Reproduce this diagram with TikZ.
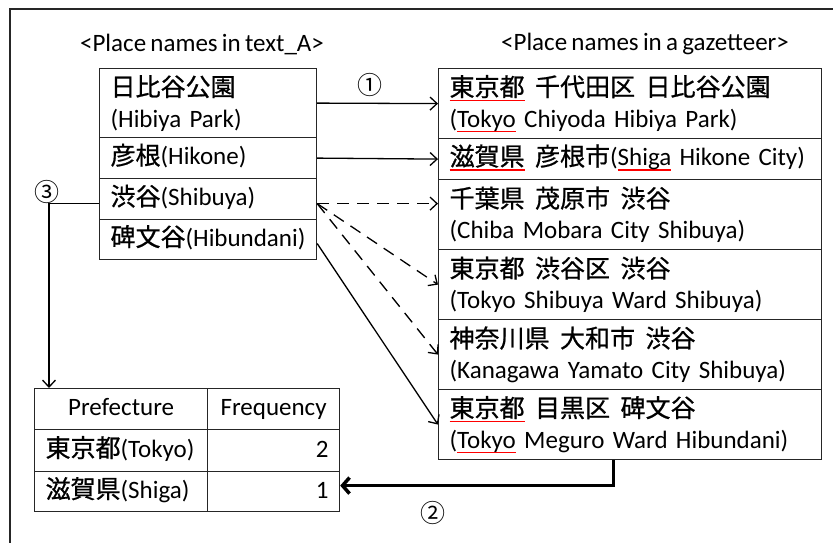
\documentclass[tikz,border=0pt]{standalone}
\usepackage{fontspec}
\setmainfont[WordSpace=0.75]{Carlito}
\newfontfamily\cjk[FakeBold=0.8]{Noto Sans CJK JP}
\newfontfamily\circfont{Noto Sans CJK JP}
\usetikzlibrary{arrows.meta}
\newsavebox\ulbox
\newcommand\redul[1]{\sbox\ulbox{#1}\rlap{\textcolor{red}{\rule[-5pt]{\wd\ulbox}{1.5pt}}}\usebox\ulbox}
\newcommand\jsp{\hspace{0.42em}}
\begin{document}
\begin{tikzpicture}[x=1pt,y=-1pt,
  font=\fontsize{25}{31}\selectfont,
  cell/.style={draw=black!85, line width=1.2pt, inner xsep=11pt, inner ysep=0pt, anchor=north west, align=left},
  one/.style={text height=18pt, text depth=5pt},
  conn/.style={line width=1.3pt, -{Straight Barb[length=7pt,width=13pt]}},
  dconn/.style={conn, dash pattern=on 12pt off 8pt},
  bigconn/.style={line width=3.5pt, -{Straight Barb[length=7pt,width=16pt]}}]
\useasboundingbox (0,0) rectangle (833,543);
\fill[white] (0,0) rectangle (833,543);
% frame
\draw[line width=1.2pt, black!85] (10,543) -- (10,9) -- (833,9);
% titles
\node (ta) at (202,44) {<Place names in text\_A>};
\node (tb) at (645,44) {<Place names in a gazetteer>};
% left table
\node[cell, text width=195pt, minimum height=69pt] (L1) at (99,68) {{\cjk 日比谷公園}\\(Hibiya Park)};
\node[cell, one, text width=195pt, minimum height=41pt] (L2) at (99,137) {{\cjk 彦根}(Hikone)};
\node[cell, one, text width=195pt, minimum height=41pt] (L3) at (99,178) {{\cjk 渋谷}(Shibuya)};
\node[cell, one, text width=195pt, minimum height=40pt] (L4) at (99,219) {{\cjk 碑文谷}(Hibundani)};
% right table
\node[cell, text width=361pt, minimum height=70pt] (R1) at (438,68) {\redul{\cjk 東京都}{\cjk\jsp 千代田区\jsp 日比谷公園}\\(\redul{Tokyo} Chiyoda Hibiya Park)};
\node[cell, one, text width=361pt, minimum height=41pt] (R2) at (438,138) {\redul{\cjk 滋賀県}{\cjk\jsp 彦根市}(\redul{Shiga} Hikone City)};
\node[cell, text width=361pt, minimum height=70pt] (R3) at (438,179) {{\cjk 千葉県\jsp 茂原市\jsp 渋谷}\\(Chiba Mobara City Shibuya)};
\node[cell, text width=361pt, minimum height=70pt] (R4) at (438,249) {{\cjk 東京都\jsp 渋谷区\jsp 渋谷}\\(Tokyo Shibuya Ward Shibuya)};
\node[cell, text width=361pt, minimum height=70pt] (R5) at (438,319) {{\cjk 神奈川県\jsp 大和市\jsp 渋谷}\\(Kanagawa Yamato City Shibuya)};
\node[cell, text width=361pt, minimum height=70pt] (R6) at (438,389) {\redul{\cjk 東京都}{\cjk\jsp 目黒区\jsp 碑文谷}\\(\redul{Tokyo} Meguro Ward Hibundani)};
% bottom table
\node[cell, one, align=center, text width=151pt, minimum height=41pt] (P) at (34,388) {Prefecture};
\node[cell, one, align=center, text width=110pt, minimum height=41pt] (F) at (207,388) {Frequency};
\node[cell, one, text width=151pt, minimum height=42pt] (T1) at (34,429) {{\cjk 東京都}(Tokyo)};
\node[cell, one, align=right, text width=110pt, minimum height=42pt] (F1) at (207,429) {2};
\node[cell, one, text width=151pt, minimum height=40pt] (T2) at (34,471) {{\cjk 滋賀県}(Shiga)};
\node[cell, one, align=right, text width=110pt, minimum height=40pt] (F2) at (207,471) {1};
% labels
\node (n1) at (370,85) {\circfont ①};
\node (n2) at (433,513) {\circfont ②};
\node (n3) at (47,192) {\circfont ③};
% connectors
\coordinate (s3) at ([yshift=-4.5pt]L3.east);
\coordinate (t3) at ([yshift=11pt]R3.west);
\coordinate (s4) at ([yshift=-4pt]L4.east);
\coordinate (s3w) at ([yshift=-4.5pt]L3.west);
\coordinate (t3w) at ([xshift=15pt]P.north west);
\coordinate (s2) at ([xshift=-16.5pt]R6.south);
\coordinate (t2) at ([yshift=6pt]F2.east);
\draw[conn] (L1.east) -- (R1.west);
\draw[conn] (L2.east) -- (R2.west);
\draw[dconn] (s3) -- (t3);
\draw[dconn] (s3) -- (R4.west);
\draw[dconn] (s3) -- (R5.west);
\draw[conn] (s4) -- (R6.west);
\draw[conn] (s3w) -| (t3w);
\draw[bigconn] (s2) |- (t2);
\end{tikzpicture}
\end{document}
